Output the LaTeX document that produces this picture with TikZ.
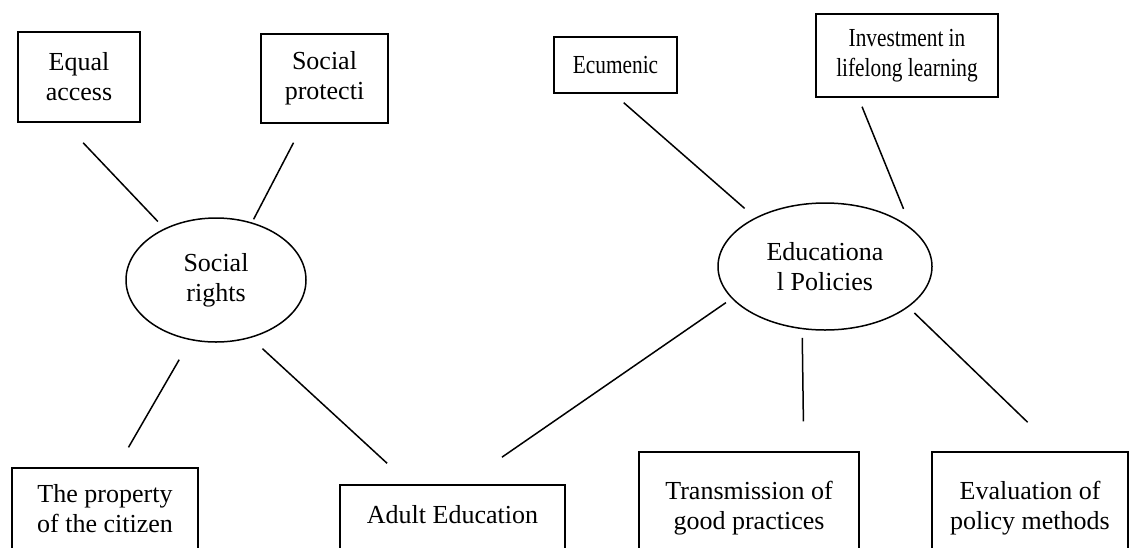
\documentclass[tikz,border=0pt]{standalone}
\usepackage{fontspec}
\setmainfont{Liberation Serif}
\newfontfamily\narrowfont[FakeStretch=0.82]{Liberation Serif}
\usetikzlibrary{shapes.geometric}

\tikzstyle{bx} = [rectangle, draw, line width=1.5pt, inner sep=0pt, align=center, font=\fontsize{26}{30}\selectfont]
\tikzstyle{nbx} = [bx, font=\fontsize{26}{30}\narrowfont]
\tikzstyle{el} = [ellipse, draw, line width=1.5pt, inner sep=0pt, align=center, font=\fontsize{26}{30}\selectfont]
\tikzstyle{ln} = [line width=1.5pt]

\begin{document}
\begin{tikzpicture}[x=1pt, y=-1pt]
    \path[use as bounding box, clip] (0,0) rectangle (1132,547);
    \node[el, minimum width=180pt, minimum height=124pt] (SR) at (216,280) {Social\\rights};
    \node[el, minimum width=214pt, minimum height=127pt] (EP) at (825,266.5) {Educationa\\l Policies};
    \node[bx, minimum width=122pt, minimum height=90pt] (EA) at (79,77) {Equal\\access};
    \node[bx, minimum width=127pt, minimum height=89pt] (SP) at (324.5,78.5) {Social\\protecti};
    \node[bx, minimum width=186pt, minimum height=82pt] (PC) at (105,509) {The property\\of the citizen};
    \node[bx, minimum width=225pt, minimum height=70pt, text depth=12pt] (AE) at (452.5,520) {Adult Education};
    \node[nbx, minimum width=123pt, minimum height=56pt] (EC) at (615.5,65) {Ecumenic};
    \node[nbx, minimum width=182pt, minimum height=83pt] (IL) at (907,55.5) {Investment in\\lifelong learning};
    \node[bx, minimum width=220pt, minimum height=112pt] (TG) at (749,508) {Transmission of\\good practices};
    \node[bx, minimum width=196pt, minimum height=112pt] (EM) at (1030,508) {Evaluation of\\policy methods};
    \draw[ln, shorten <=27.6pt, shorten >=9.5pt] (EA.252) -- (SR.135);
    \draw[ln, shorten <=21.4pt, shorten >=3.5pt] (SP.245) -- (SR.58);
    \draw[ln, shorten <=22.5pt, shorten >=23pt] (SR.247) -- (PC.74);
    \draw[ln, shorten <=15.8pt, shorten >=31pt] (SR.301) -- (AE.140);
    \draw[ln, shorten <=13.6pt, shorten >=14pt] (EC.266) -- (EP.145);
    \draw[ln, shorten <=9.7pt, shorten >=20.7pt] (IL.221) -- (EP.24);
    \draw[ln, shorten <=7pt, shorten >=47.6pt] (EP.199) -- (AE.74);
    \draw[ln, shorten <=8.5pt, shorten >=30pt] (EP.250) -- (TG.46.55);
    \draw[ln, shorten <=8.3pt, shorten >=41.8pt] (EP.334) -- (EM.64);
  \end{tikzpicture}
\end{document}
